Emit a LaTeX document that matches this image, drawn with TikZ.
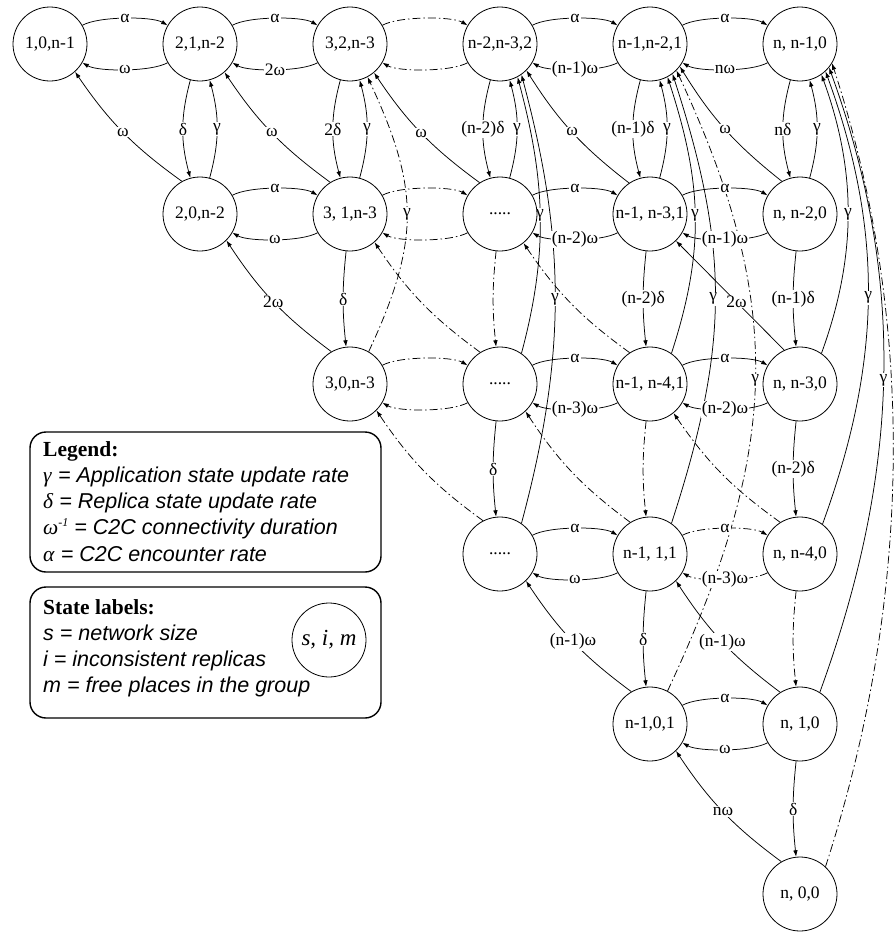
\documentclass[tikz,border=0pt]{standalone}
\usepackage{fontspec}
\setmainfont{Liberation Serif}
\newfontfamily\lgsf{Liberation Sans}
\usetikzlibrary{arrows.meta,backgrounds}
\begin{document}
\begin{tikzpicture}[x=1pt,y=-1pt,
  st/.style={circle,draw,fill=white,line width=0.8pt,minimum size=74pt,inner sep=0pt,font=\fontsize{17.5pt}{20pt}\selectfont},
  tr/.style={line width=0.75pt,-{Latex[length=6.5pt,width=4.5pt]}},
  dd/.style={dash pattern=on 8pt off 3pt on 1.5pt off 3pt},
  lab/.style={fill=white,inner sep=1pt,font=\fontsize{17.5pt}{20pt}\selectfont},
  hz/.style={bend left=30,looseness=.55},
  vp/.style={bend right=15},
  vs/.style={bend right=6},
  dg/.style={bend left=10},
  box/.style={draw,rounded corners=16pt,line width=1.4pt,inner sep=0pt},
  txt/.style={anchor=base west,inner sep=0pt,font=\fontsize{21.5pt}{26pt}\selectfont},
]
\useasboundingbox (0,0) rectangle (896,932);

% ---- states (s, i, m) ----
\node[st] (a1) at (50,44)  {1,0,n-1};
\node[st] (a2) at (200,44) {2,1,n-2};
\node[st] (a3) at (350,44) {3,2,n-3};
\node[st] (a4) at (500,44) {n-2,n-3,2};
\node[st] (a5) at (650,44) {n-1,n-2,1};
\node[st] (a6) at (800,44) {n, n-1,0};

\node[st] (b2) at (200,214) {2,0,n-2};
\node[st] (b3) at (350,214) {3, 1,n-3};
\node[st] (b4) at (500,214) {.....};
\node[st] (b5) at (650,214) {n-1, n-3,1};
\node[st] (b6) at (800,214) {n, n-2,0};

\node[st] (c3) at (350,384) {3,0,n-3};
\node[st] (c4) at (500,384) {.....};
\node[st] (c5) at (650,384) {n-1, n-4,1};
\node[st] (c6) at (800,384) {n, n-3,0};

\node[st] (d4) at (500,554) {.....};
\node[st] (d5) at (650,554) {n-1, 1,1};
\node[st] (d6) at (800,554) {n, n-4,0};

\node[st] (e5) at (650,724) {n-1,0,1};
\node[st] (e6) at (800,724) {n, 1,0};

\node[st] (f6) at (800,894) {n, 0,0};

\begin{scope}[on background layer]
% ---- long gamma arcs back to the top row ----
\draw[tr,dd] (f6.47) to[out=72,in=-72,looseness=.88] (a6.-31);
\draw[tr] (e6.58) to[out=70,in=-70,looseness=.94] node[lab]{γ} (a6.-39);
\draw[tr] (d6.53) to[out=70,in=-70,looseness=.97] node[lab]{γ} (a6.-47);
\draw[tr] (c6.55) to[out=70,in=-70,looseness=.95] node[lab]{γ} (a6.-55);

\draw[tr,dd] (e5.62) to[out=65,in=-65,looseness=1.08] node[lab]{γ} (a5.-45);
\draw[tr] (d5.55) to[out=72,in=-72,looseness=1.06] node[lab,pos=.5,xshift=-2pt]{γ} (a5.-53);
\draw[tr] (c5.55) to[out=72,in=-72,looseness=1.02] node[lab]{γ} (a5.-62);

\draw[tr] (d4.55) to[out=75,in=-75,looseness=.99] node[lab]{γ} (a4.-55);
\draw[tr] (c4.55) to[out=75,in=-75,looseness=.98] node[lab]{γ} (a4.-62);

\draw[tr,dd] (c3.60) to[out=65,in=-65,looseness=1.14] node[lab]{γ} (a3.-62);

% ---- diagonal omega transitions ----
\draw[tr] (b2.119) to[dg] node[lab]{ω} (a1.-48);
\draw[tr] (b3.122) to[dg] node[lab]{ω} (a2.-49);
\draw[tr] (c3.120) to[dg] node[lab]{2ω} (b2.-45);
\draw[tr] (b4.123) to[dg] node[lab]{ω} (a3.-50);
\draw[tr] (b5.124) to[dg] node[lab]{ω} (a4.-45);
\draw[tr] (b6.119) to[dg] node[lab]{ω} (a5.-37);
\draw[tr] (c6.115) to node[lab,pos=.44,inner sep=0.5pt]{2ω} (b5.-46);
\draw[tr] (e5.120) to[dg] node[lab]{(n-1)ω} (d4.-46);
\draw[tr] (e6.122) to[dg] node[lab]{(n-1)ω} (d5.-46);
\draw[tr] (f6.120) to[dg] node[lab]{nω} (e5.-46);

\draw[tr,dd] (c4.122) to[dg] (b3.-49);
\draw[tr,dd] (d4.117) to[dg] (c3.-45);
\draw[tr,dd] (c5.123) to[dg] (b4.-51);
\draw[tr,dd] (d5.122) to[dg] (c4.-47);
\draw[tr,dd] (d6.122) to[dg] (c5.-51);

% ---- horizontal alpha / omega pairs ----
\draw[tr] (a1) to[hz] node[lab]{α} (a2);
\draw[tr] (a2) to[hz] node[lab]{ω} (a1);
\draw[tr] (a2) to[hz] node[lab]{α} (a3);
\draw[tr] (a3) to[hz] node[lab]{2ω} (a2);
\draw[tr,dd] (a3) to[hz] (a4);
\draw[tr,dd] (a4) to[hz] (a3);
\draw[tr] (a4) to[hz] node[lab]{α} (a5);
\draw[tr] (a5) to[hz] node[lab]{(n-1)ω} (a4);
\draw[tr] (a5) to[hz] node[lab]{α} (a6);
\draw[tr] (a6) to[hz] node[lab]{nω} (a5);

\draw[tr] (b2) to[hz] node[lab]{α} (b3);
\draw[tr] (b3) to[hz] node[lab]{ω} (b2);
\draw[tr,dd] (b3) to[hz] (b4);
\draw[tr,dd] (b4) to[hz] (b3);
\draw[tr] (b4) to[hz] node[lab]{α} (b5);
\draw[tr] (b5) to[hz] node[lab]{(n-2)ω} (b4);
\draw[tr] (b5) to[hz] node[lab]{α} (b6);
\draw[tr] (b6) to[hz] node[lab]{(n-1)ω} (b5);

\draw[tr,dd] (c3) to[hz] (c4);
\draw[tr,dd] (c4) to[hz] (c3);
\draw[tr] (c4) to[hz] node[lab]{α} (c5);
\draw[tr] (c5) to[hz] node[lab]{(n-3)ω} (c4);
\draw[tr] (c5) to[hz] node[lab]{α} (c6);
\draw[tr] (c6) to[hz] node[lab]{(n-2)ω} (c5);

\draw[tr] (d4) to[hz] node[lab]{α} (d5);
\draw[tr] (d5) to[hz] node[lab]{ω} (d4);
\draw[tr,dd] (d5) to[hz] node[lab]{α} (d6);
\draw[tr,dd] (d6) to[hz] node[lab]{(n-3)ω} (d5);

\draw[tr] (e5) to[hz] node[lab]{α} (e6);
\draw[tr] (e6) to[hz] node[lab]{ω} (e5);

% ---- vertical delta / gamma pairs ----
\draw[tr] (a2) to[vp] node[lab]{δ} (b2);
\draw[tr] (b2) to[vp] node[lab]{γ} (a2);
\draw[tr] (a3) to[vp] node[lab]{2δ} (b3);
\draw[tr] (b3) to[vp] node[lab]{γ} (a3);
\draw[tr] (a4) to[vp] node[lab]{(n-2)δ} (b4);
\draw[tr] (b4) to[vp] node[lab]{γ} (a4);
\draw[tr] (a5) to[vp] node[lab]{(n-1)δ} (b5);
\draw[tr] (b5) to[vp] node[lab]{γ} (a5);
\draw[tr] (a6) to[vp] node[lab]{nδ} (b6);
\draw[tr] (b6) to[vp] node[lab]{γ} (a6);

% ---- single downward delta steps ----
\draw[tr] (b3) to[vs] node[lab]{δ} (c3);
\draw[tr,dd] (b4) to[vs] (c4);
\draw[tr] (c4) to[vs] node[lab]{δ} (d4);
\draw[tr] (b5) to[vs] node[lab]{(n-2)δ} (c5);
\draw[tr,dd] (c5) to[vs] (d5);
\draw[tr] (d5) to[vs] node[lab]{δ} (e5);
\draw[tr] (b6) to[vs] node[lab]{(n-1)δ} (c6);
\draw[tr] (c6) to[vs] node[lab]{(n-2)δ} (d6);
\draw[tr,dd] (d6) to[vs] (e6);
\draw[tr] (e6) to[vs] node[lab]{δ} (f6);
\end{scope}

% ---- legend ----
\node[box,minimum width=351pt,minimum height=140pt] (legend) at (205.5,502) {};
\node[txt] (lg0) at (43,456) {\textbf{Legend:}};
\node[txt] (lg1) at (43,482) {\textit{γ}{\lgsf\itshape\ = Application state update rate}};
\node[txt] (lg2) at (43,508) {\textit{δ}{\lgsf\itshape\ = Replica state update rate}};
\node[txt] (lg3) at (43,534) {\textit{ω}\raisebox{8pt}{\fontsize{12pt}{12pt}\selectfont\itshape -1}{\lgsf\itshape\ = C2C connectivity duration}};
\node[txt] (lg4) at (43,561) {\textit{α}{\lgsf\itshape\ = C2C encounter rate}};

\node[box,minimum width=351pt,minimum height=131pt] (states) at (205.5,652.5) {};
\node[txt] (sl0) at (43,614) {\textbf{State labels:}};
\node[txt] (sl1) at (43,640) {\lgsf\itshape s = network size};
\node[txt] (sl2) at (43,666) {\lgsf\itshape i = inconsistent replicas};
\node[txt] (sl3) at (43,692) {\lgsf\itshape m = free places in the group};
\node[st,font=\fontsize{23pt}{26pt}\selectfont\itshape] (sim) at (329,640) {s, i, m};
\end{tikzpicture}
\end{document}
